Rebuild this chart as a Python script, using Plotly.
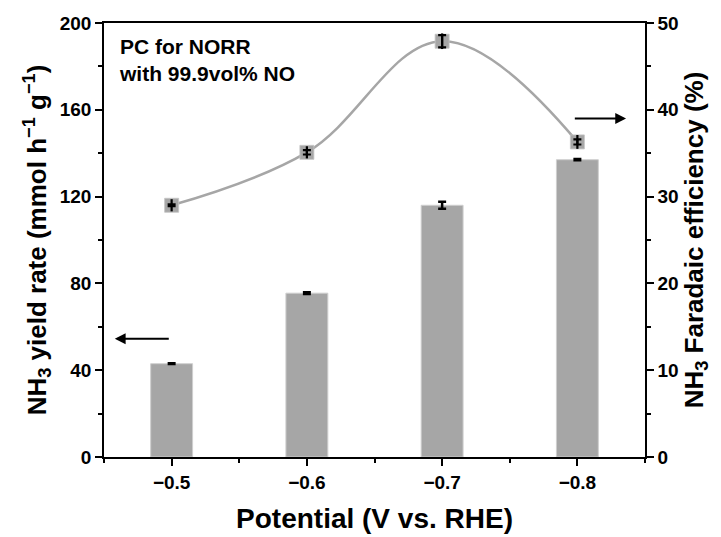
import plotly.graph_objects as go

potentials = ["−0.5", "−0.6", "−0.7", "−0.8"]
yield_rate = [43.0, 75.5, 116.0, 137.0]
yield_err = [0.2, 0.4, 1.6, 0.3]
fe = [29.0, 35.1, 47.9, 36.3]
fe_err_cap = [0.1, 0.25, 0.7, 0.3]
fe_err_line = [0.7, 0.7, 0.9, 0.8]

xpos = list(range(len(potentials)))
FONT = "Liberation Sans, Arial, sans-serif"

fig = go.Figure()
fig.add_trace(go.Bar(
    x=xpos, y=yield_rate, width=0.31,
    marker=dict(color="#a6a6a6", line=dict(color="#cfcfcf", width=1)),
    error_y=dict(type="data", array=yield_err, color="black", thickness=2.5, width=4),
    yaxis="y", showlegend=False,
))
fig.add_trace(go.Scatter(
    x=xpos, y=fe, mode="lines", line=dict(color="#a6a6a6", width=2.5, shape="spline", smoothing=1.1),
    yaxis="y2", showlegend=False, hoverinfo="skip",
))
fig.add_trace(go.Scatter(
    x=xpos, y=fe, mode="markers",
    marker=dict(symbol="square", size=14, color="#a6a6a6", line=dict(color="#c4c4c4", width=0.8)),
    yaxis="y2", showlegend=False,
))
fig.add_trace(go.Scatter(
    x=xpos, y=fe, mode="markers",
    marker=dict(size=1, color="rgba(0,0,0,0)"),
    error_y=dict(type="data", array=fe_err_line, color="black", thickness=2.2, width=0),
    yaxis="y2", showlegend=False, hoverinfo="skip",
))
fig.add_trace(go.Scatter(
    x=xpos, y=fe, mode="markers",
    marker=dict(size=1, color="rgba(0,0,0,0)"),
    error_y=dict(type="data", array=fe_err_cap, color="black", thickness=2.2, width=4),
    yaxis="y2", showlegend=False, hoverinfo="skip",
))

tickf = dict(family=FONT, size=19, color="black", weight="bold")
titlef = dict(family=FONT, size=26, color="black", weight="bold")
fig.update_layout(
    width=721, height=537,
    margin=dict(l=104, r=76, t=23, b=80, autoexpand=False),
    plot_bgcolor="white", paper_bgcolor="white",
    font=dict(family=FONT, color="black"),
    xaxis=dict(
        range=[-0.5, 3.5], tickvals=xpos, ticktext=potentials, automargin=False,
        showline=True, linecolor="black", linewidth=1.5, mirror=True,
        ticks="outside", ticklen=7, tickwidth=1.5, tickcolor="black",
        minor=dict(tickvals=[-0.5, 0.5, 1.5, 2.5, 3.5], ticks="outside", ticklen=4, tickwidth=1.5, tickcolor="black"),
        tickfont=tickf, showgrid=False, zeroline=False,
        title=dict(text="Potential (V vs. RHE)", font=dict(family=FONT, size=28, color="black", weight="bold"), standoff=17),
    ),
    yaxis=dict(
        range=[0, 200], tick0=0, dtick=40, automargin=False,
        showline=True, linecolor="black", linewidth=1.5,
        ticks="outside", ticklen=7, tickwidth=1.5, tickcolor="black",
        minor=dict(dtick=20, ticks="outside", ticklen=4, tickwidth=1.5, tickcolor="black"),
        tickfont=tickf, showgrid=False, zeroline=False,
        title=dict(text="NH<sub>3</sub> yield rate (mmol h<sup>−1</sup> g<sup>−1</sup>)",
                   font=titlef, standoff=6),
    ),
    yaxis2=dict(
        range=[0, 50], tick0=0, dtick=10, overlaying="y", side="right", automargin=False,
        showline=True, linecolor="black", linewidth=1.5,
        ticks="outside", ticklen=7, tickwidth=1.5, tickcolor="black",
        minor=dict(dtick=5, ticks="outside", ticklen=4, tickwidth=1.5, tickcolor="black"),
        tickfont=tickf, showgrid=False, zeroline=False,
        title=dict(text="NH<sub>3</sub> Faradaic efficiency (%)", font=titlef, standoff=5),
    ),
    annotations=[
        dict(xref="paper", yref="paper", x=0.024, y=0.978, xanchor="left", yanchor="top",
             text="PC for NORR<br>with 99.9vol% NO", align="left", showarrow=False,
             font=dict(family=FONT, size=21, color="black", weight="bold")),
        dict(xref="x", yref="y", axref="x", ayref="y", x=-0.42, y=54.5, ax=-0.01, ay=54.5,
             text="", showarrow=True, arrowhead=2, arrowsize=1.2, arrowwidth=1.8, arrowcolor="black"),
        dict(xref="x", yref="y2", axref="x", ayref="y2", x=3.36, y=39.0, ax=2.97, ay=39.0,
             text="", showarrow=True, arrowhead=2, arrowsize=1.2, arrowwidth=1.8, arrowcolor="black"),
    ],
)

fig.write_html("out.html")
